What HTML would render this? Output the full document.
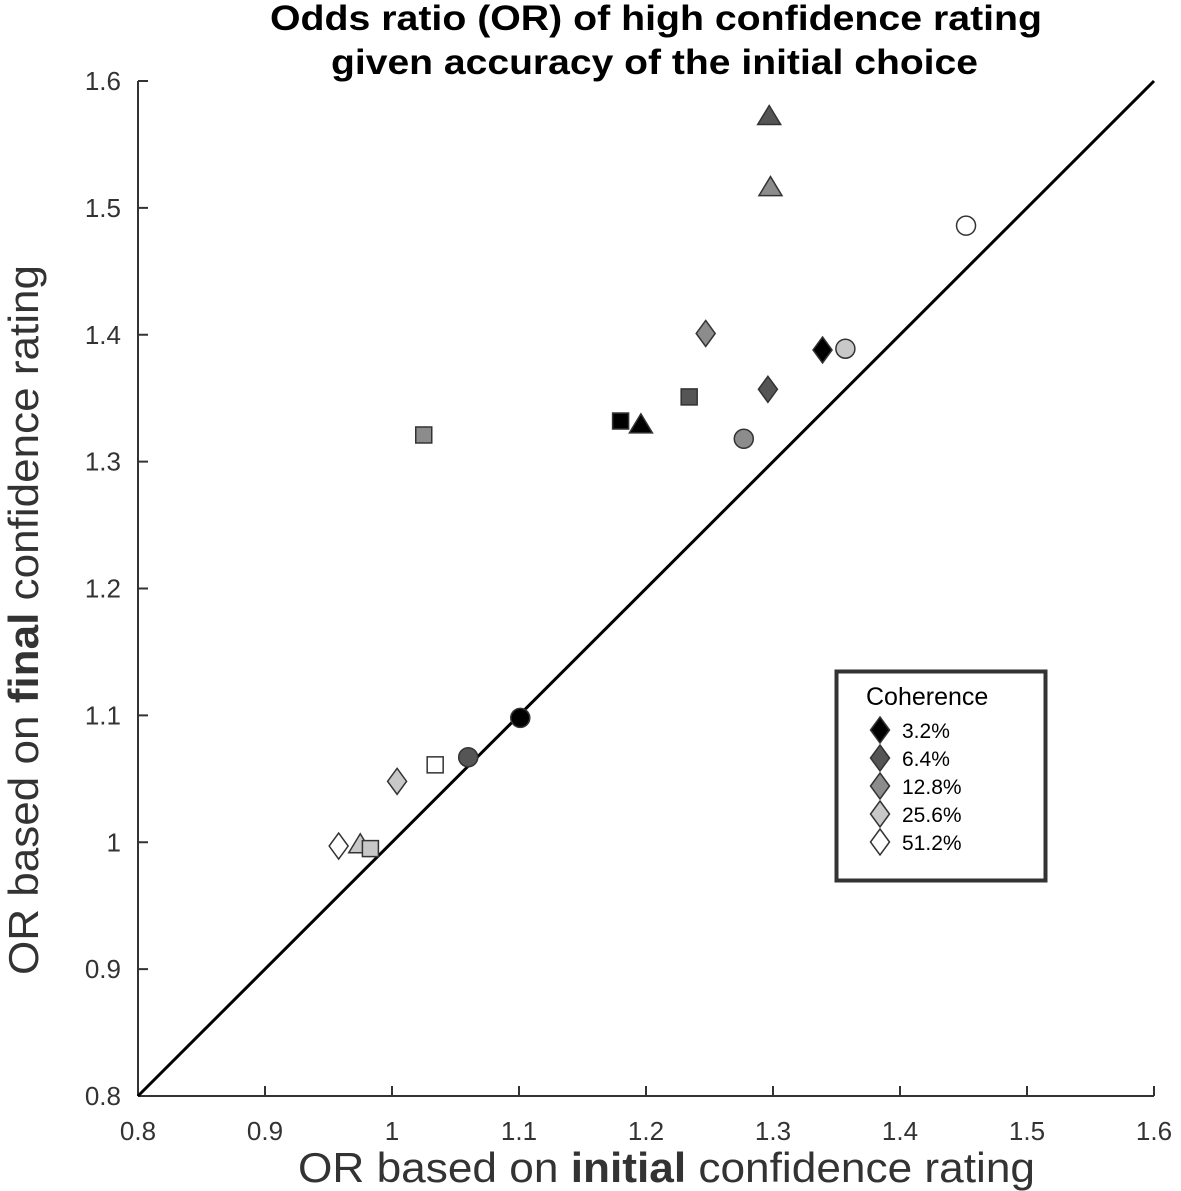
<!DOCTYPE html>
<html><head><meta charset="utf-8"><style>
html,body{margin:0;padding:0;background:#fff;}
svg{display:block;font-family:"Liberation Sans",Arial,sans-serif;}
</style></head><body>
<svg id="chart" width="1181" height="1191" viewBox="0 0 1181 1191" xmlns="http://www.w3.org/2000/svg">
<text x="270" y="30" textLength="772" lengthAdjust="spacingAndGlyphs" font-size="35" font-weight="bold" fill="#000">Odds ratio (OR) of high confidence rating</text>
<text x="331" y="74" textLength="647" lengthAdjust="spacingAndGlyphs" font-size="35" font-weight="bold" fill="#000">given accuracy of the initial choice</text>
<text x="298" y="1182" textLength="737" lengthAdjust="spacingAndGlyphs" font-size="42" fill="#333">OR based on <tspan font-weight="bold">initial</tspan> confidence rating</text>
<text transform="translate(38,975) rotate(-90)" textLength="710" lengthAdjust="spacingAndGlyphs" font-size="42" fill="#333">OR based on <tspan font-weight="bold">final</tspan> confidence rating</text>
<g id="axes"></g>
<g id="marks"></g>
<g id="legend">
<rect x="836.5" y="671.5" width="209" height="209" fill="#fff" stroke="#333" stroke-width="4"/>
<text x="866" y="705" font-size="25" fill="#000">Coherence</text>
</g>
</svg>
<script>
const levels = ['3.2%','6.4%','12.8%','25.6%','51.2%'];
const fills = ['#000000','#555555','#8c8c8c','#c8c8c8','#ffffff'];
const xTicks = [0.8,0.9,1.0,1.1,1.2,1.3,1.4,1.5,1.6];
const yTicks = [0.8,0.9,1.0,1.1,1.2,1.3,1.4,1.5,1.6];
const xTickLabels = ['0.8','0.9','1','1.1','1.2','1.3','1.4','1.5','1.6'];
const yTickLabels = ['0.8','0.9','1','1.1','1.2','1.3','1.4','1.5','1.6'];
const ptShape = ['triangle','triangle','circle','diamond','diamond','circle','diamond','square','square','triangle','square','circle','circle','circle','square','diamond','diamond','triangle','square'];
const ptLevel = [1,2,4,2,0,3,1,1,0,0,2,2,0,1,4,3,4,3,3];
const ptX = [1.297,1.298,1.452,1.247,1.339,1.357,1.296,1.234,1.180,1.196,1.025,1.277,1.101,1.060,1.034,1.004,0.958,0.975,0.983];
const ptY = [1.572,1.516,1.486,1.401,1.388,1.389,1.357,1.351,1.332,1.329,1.321,1.318,1.098,1.067,1.061,1.048,0.997,0.998,0.995];

const NS='http://www.w3.org/2000/svg';
const X0=138,X1=1154,Y0=1096,Y1=81,D0=0.8,D1=1.6;
function sx(v){return X0+(v-D0)/(D1-D0)*(X1-X0);}
function sy(v){return Y0-(v-D0)/(D1-D0)*(Y0-Y1);}
function mk(tag,attrs,parent){const e=document.createElementNS(NS,tag);for(const k in attrs)e.setAttribute(k,attrs[k]);parent.appendChild(e);return e;}
const axes=document.getElementById('axes');
let l=mk('line',{x1:X0,y1:Y1,x2:X0,y2:Y0,stroke:'#333','stroke-width':2},axes);


l=mk('line',{x1:X0,y1:Y0,x2:X1,y2:Y0,stroke:'#333','stroke-width':2},axes);


xTicks.forEach((t,i)=>{
  const x=sx(t);
  const tk=mk('line',{x1:x,y1:Y0,x2:x,y2:Y0-10,stroke:'#333','stroke-width':2},axes);
  
  
  const tx=mk('text',{x:x,y:Y0+44,'text-anchor':'middle','font-size':26,fill:'#333'},axes);
  
  
  tx.textContent=xTickLabels[i];
});
yTicks.forEach((t,i)=>{
  const y=sy(t);
  const tk=mk('line',{x1:X0,y1:y,x2:X0+10,y2:y,stroke:'#333','stroke-width':2},axes);
  
  
  const tx=mk('text',{x:X0-17,y:y+9,'text-anchor':'end','font-size':26,fill:'#333'},axes);
  
  
  tx.textContent=yTickLabels[i];
});
const marks=document.getElementById('marks');
const diag=mk('line',{x1:sx(0.8),y1:sy(0.8),x2:sx(1.6),y2:sy(1.6),stroke:'#000','stroke-width':3},marks);


function shape(kind,cx,cy,fill,parent){
  const a={fill:fill,stroke:'#333','stroke-width':1.5};
  let e;
  if(kind==='circle'){a.cx=cx;a.cy=cy;a.r=9.5;e=mk('circle',a,parent);}
  else if(kind==='square'){a.x=cx-8;a.y=cy-8;a.width=16;a.height=16;e=mk('rect',a,parent);}
  else if(kind==='diamond'){a.points=`${cx},${cy-13} ${cx+9.5},${cy} ${cx},${cy+13} ${cx-9.5},${cy}`;e=mk('polygon',a,parent);}
  else {a.points=`${cx},${cy-11} ${cx+11.5},${cy+8} ${cx-11.5},${cy+8}`;e=mk('polygon',a,parent);}
  return e;
}
ptX.forEach((v,i)=>{
  const e=shape(ptShape[i],sx(v),sy(ptY[i]),fills[ptLevel[i]],marks);
  
  
});
const lg=document.getElementById('legend');
levels.forEach((lv,i)=>{
  const cy=730+i*28;
  const e=shape('diamond',880,cy,fills[i],lg);
  
  
  const t=mk('text',{x:902,y:cy+8,'font-size':21,fill:'#000'},lg);
  
  
  t.textContent=lv;
});
</script>
</body></html>
